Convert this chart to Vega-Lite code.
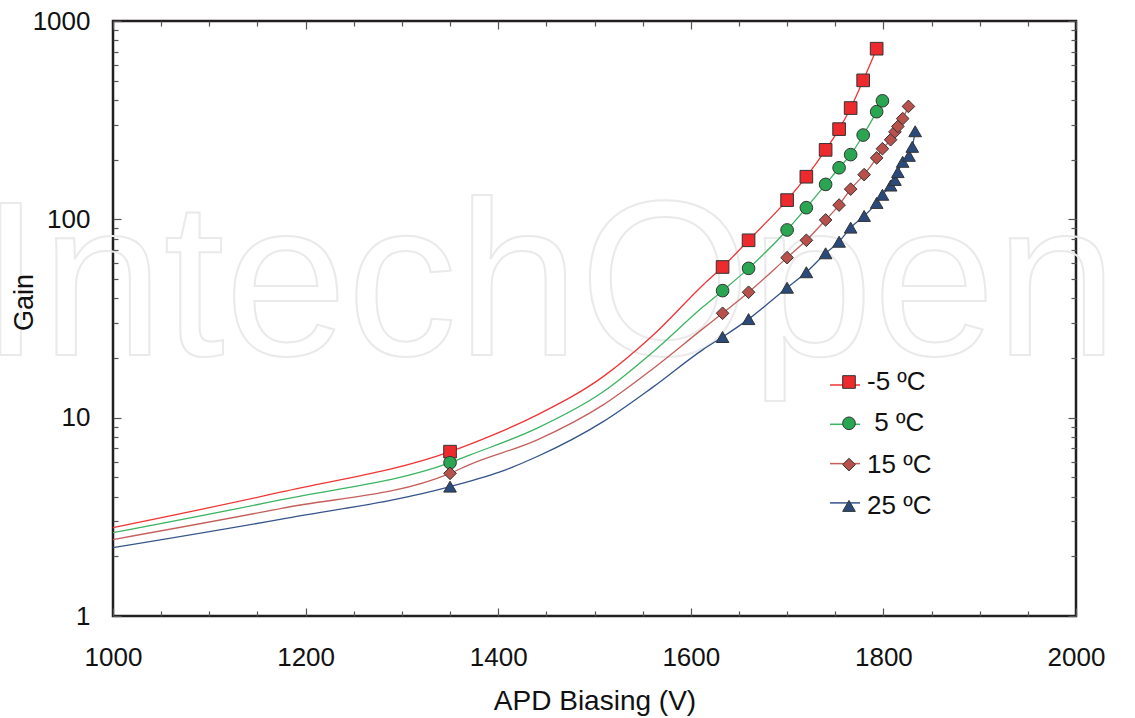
{
  "$schema": "https://vega.github.io/schema/vega-lite/v6.json",
  "width": 963,
  "height": 595,
  "autosize": {"type": "none"},
  "padding": {"left": 113, "top": 21, "right": 59, "bottom": 102},
  "background": "white",
  "config": {
    "view": {"stroke": "#231f20", "strokeWidth": 2.5},
    "font": "Liberation Sans",
    "axis": {
      "domain": false, "grid": false,
      "labelFont": "Liberation Sans", "labelFontSize": 26, "labelColor": "#111",
      "titleFont": "Liberation Sans", "titleFontSize": 28, "titleFontWeight": "normal", "titleColor": "#111",
      "tickColor": "#555", "tickWidth": 1.2, "labelFlush": false, "labelOverlap": false
    },
    "legend": {"labelFont": "Liberation Sans", "labelFontSize": 26, "labelColor": "#111", "padding": 0, "title": null}
  },
  "datasets": {
    "gain": [
      {"series": "-5 ºC", "kind": "c", "bias": 1000, "gain": 2.79},
      {"series": "-5 ºC", "kind": "c", "bias": 1175, "gain": 4.22},
      {"series": "-5 ºC", "kind": "m", "bias": 1350, "gain": 6.74},
      {"series": "-5 ºC", "kind": "c", "bias": 1371, "gain": 7.36},
      {"series": "-5 ºC", "kind": "c", "bias": 1440, "gain": 10.3},
      {"series": "-5 ºC", "kind": "c", "bias": 1509, "gain": 16.1},
      {"series": "-5 ºC", "kind": "c", "bias": 1561, "gain": 26.1},
      {"series": "-5 ºC", "kind": "c", "bias": 1613, "gain": 46.8},
      {"series": "-5 ºC", "kind": "m", "bias": 1633, "gain": 57.5},
      {"series": "-5 ºC", "kind": "m", "bias": 1660, "gain": 78.4},
      {"series": "-5 ºC", "kind": "m", "bias": 1700, "gain": 125},
      {"series": "-5 ºC", "kind": "m", "bias": 1720, "gain": 164},
      {"series": "-5 ºC", "kind": "m", "bias": 1740, "gain": 224},
      {"series": "-5 ºC", "kind": "m", "bias": 1754, "gain": 285},
      {"series": "-5 ºC", "kind": "m", "bias": 1766, "gain": 364},
      {"series": "-5 ºC", "kind": "m", "bias": 1779, "gain": 502},
      {"series": "-5 ºC", "kind": "m", "bias": 1793, "gain": 725},

      {"series": "5 ºC", "kind": "c", "bias": 1000, "gain": 2.63},
      {"series": "5 ºC", "kind": "c", "bias": 1175, "gain": 3.86},
      {"series": "5 ºC", "kind": "m", "bias": 1350, "gain": 5.93},
      {"series": "5 ºC", "kind": "c", "bias": 1371, "gain": 6.49},
      {"series": "5 ºC", "kind": "c", "bias": 1440, "gain": 8.83},
      {"series": "5 ºC", "kind": "c", "bias": 1509, "gain": 13.5},
      {"series": "5 ºC", "kind": "c", "bias": 1561, "gain": 21.5},
      {"series": "5 ºC", "kind": "c", "bias": 1613, "gain": 36.3},
      {"series": "5 ºC", "kind": "m", "bias": 1633, "gain": 43.7},
      {"series": "5 ºC", "kind": "m", "bias": 1660, "gain": 56.6},
      {"series": "5 ºC", "kind": "m", "bias": 1700, "gain": 88.4},
      {"series": "5 ºC", "kind": "m", "bias": 1720, "gain": 114.5},
      {"series": "5 ºC", "kind": "m", "bias": 1740, "gain": 150},
      {"series": "5 ºC", "kind": "m", "bias": 1754, "gain": 182},
      {"series": "5 ºC", "kind": "m", "bias": 1766, "gain": 212},
      {"series": "5 ºC", "kind": "m", "bias": 1779, "gain": 266},
      {"series": "5 ºC", "kind": "m", "bias": 1793, "gain": 349},
      {"series": "5 ºC", "kind": "m", "bias": 1799, "gain": 396},

      {"series": "15 ºC", "kind": "c", "bias": 1000, "gain": 2.43},
      {"series": "15 ºC", "kind": "c", "bias": 1175, "gain": 3.49},
      {"series": "15 ºC", "kind": "m", "bias": 1350, "gain": 5.24},
      {"series": "15 ºC", "kind": "c", "bias": 1371, "gain": 5.82},
      {"series": "15 ºC", "kind": "c", "bias": 1440, "gain": 7.71},
      {"series": "15 ºC", "kind": "c", "bias": 1509, "gain": 11.6},
      {"series": "15 ºC", "kind": "c", "bias": 1561, "gain": 17.7},
      {"series": "15 ºC", "kind": "c", "bias": 1613, "gain": 28.2},
      {"series": "15 ºC", "kind": "m", "bias": 1633, "gain": 33.6},
      {"series": "15 ºC", "kind": "m", "bias": 1660, "gain": 42.9},
      {"series": "15 ºC", "kind": "m", "bias": 1700, "gain": 64.1},
      {"series": "15 ºC", "kind": "m", "bias": 1720, "gain": 78.4},
      {"series": "15 ºC", "kind": "m", "bias": 1740, "gain": 99.3},
      {"series": "15 ºC", "kind": "m", "bias": 1754, "gain": 118},
      {"series": "15 ºC", "kind": "m", "bias": 1766, "gain": 142},
      {"series": "15 ºC", "kind": "m", "bias": 1780, "gain": 168},
      {"series": "15 ºC", "kind": "m", "bias": 1793, "gain": 204},
      {"series": "15 ºC", "kind": "m", "bias": 1799, "gain": 227},
      {"series": "15 ºC", "kind": "m", "bias": 1807.5, "gain": 252},
      {"series": "15 ºC", "kind": "m", "bias": 1812, "gain": 276},
      {"series": "15 ºC", "kind": "m", "bias": 1815, "gain": 294},
      {"series": "15 ºC", "kind": "m", "bias": 1820, "gain": 322},
      {"series": "15 ºC", "kind": "m", "bias": 1826, "gain": 371},

      {"series": "25 ºC", "kind": "c", "bias": 1000, "gain": 2.21},
      {"series": "25 ºC", "kind": "c", "bias": 1175, "gain": 3.08},
      {"series": "25 ºC", "kind": "m", "bias": 1350, "gain": 4.49},
      {"series": "25 ºC", "kind": "c", "bias": 1407, "gain": 5.44},
      {"series": "25 ºC", "kind": "c", "bias": 1440, "gain": 6.35},
      {"series": "25 ºC", "kind": "c", "bias": 1509, "gain": 9.55},
      {"series": "25 ºC", "kind": "c", "bias": 1561, "gain": 14.3},
      {"series": "25 ºC", "kind": "c", "bias": 1613, "gain": 22.1},
      {"series": "25 ºC", "kind": "m", "bias": 1633, "gain": 25.5},
      {"series": "25 ºC", "kind": "m", "bias": 1660, "gain": 31.4},
      {"series": "25 ºC", "kind": "m", "bias": 1700, "gain": 45.2},
      {"series": "25 ºC", "kind": "m", "bias": 1720, "gain": 54.1},
      {"series": "25 ºC", "kind": "m", "bias": 1740, "gain": 67.4},
      {"series": "25 ºC", "kind": "m", "bias": 1754, "gain": 77.1},
      {"series": "25 ºC", "kind": "m", "bias": 1766, "gain": 90.8},
      {"series": "25 ºC", "kind": "m", "bias": 1780, "gain": 104},
      {"series": "25 ºC", "kind": "m", "bias": 1793, "gain": 121},
      {"series": "25 ºC", "kind": "m", "bias": 1799, "gain": 133},
      {"series": "25 ºC", "kind": "m", "bias": 1807.5, "gain": 148},
      {"series": "25 ºC", "kind": "m", "bias": 1812, "gain": 158},
      {"series": "25 ºC", "kind": "m", "bias": 1815, "gain": 173},
      {"series": "25 ºC", "kind": "m", "bias": 1820, "gain": 195},
      {"series": "25 ºC", "kind": "m", "bias": 1826.6, "gain": 209},
      {"series": "25 ºC", "kind": "m", "bias": 1830, "gain": 232},
      {"series": "25 ºC", "kind": "m", "bias": 1833, "gain": 278}
    ],
    "mark": [
      {"note": "IntechOpen", "bias": 862, "gain": 20.7}
    ]
  },
  "layer": [
    {
      "data": {"name": "mark"},
      "mark": {"type": "text", "fontSize": 220, "font": "Liberation Sans", "align": "left", "baseline": "alphabetic", "fill": "transparent", "stroke": "#eaeaea", "strokeWidth": 2},
      "encoding": {
        "x": {"field": "bias", "type": "quantitative", "axis": null},
        "y": {"field": "gain", "type": "quantitative", "axis": null},
        "text": {"field": "note"}
      }
    },
    {
      "data": {"name": "gain"},
      "mark": {"type": "line", "interpolate": "monotone", "strokeWidth": 1.3},
      "encoding": {
        "x": {
          "field": "bias", "type": "quantitative",
          "scale": {"domain": [1000, 2000], "nice": false, "zero": false},
          "axis": {
            "orient": "bottom",
            "values": [1000,1050,1100,1150,1200,1250,1300,1350,1400,1450,1500,1550,1600,1650,1700,1750,1800,1850,1900,1950,2000],
            "format": "d",
            "labelExpr": "datum.value % 200 == 0 ? datum.label : ''",
            "tickSize": {"condition": {"test": "datum.value % 200 == 0", "value": -8}, "value": -5},
            "labelPadding": 36,
            "title": "APD Biasing (V)", "titleY": 93, "titleBaseline": "alphabetic"
          }
        },
        "y": {
          "field": "gain", "type": "quantitative",
          "scale": {"type": "log", "domain": [1, 1000], "nice": false},
          "axis": {
            "orient": "left", "zindex": 1,
            "values": [1,2,3,4,5,6,7,8,9,10,20,30,40,50,60,70,80,90,100,200,300,400,500,600,700,800,900,1000],
            "format": "d",
            "labelExpr": "indexof([1,10,100,1000], datum.value) >= 0 ? datum.label : ''",
            "tickSize": {"condition": {"test": "indexof([1,10,100,1000], datum.value) >= 0", "value": -8}, "value": -5},
            "labelPadding": 31,
            "title": "Gain", "titleX": -81, "titleY": 281, "titleAngle": -90, "titleAlign": "center", "titleBaseline": "alphabetic", "titleFontSize": 27
          }
        },
        "stroke": {
          "field": "series", "type": "nominal",
          "scale": {"domain": ["-5 ºC", "5 ºC", "15 ºC", "25 ºC", "-"], "range": ["#ef3535", "#3cb462", "#c4605c", "#34548a", "#000000"]},
          "legend": {"orient": "none", "legendX": 716, "legendY": 348, "values": ["-5 ºC", "5 ºC", "15 ºC", "25 ºC"], "symbolType": "stroke", "symbolSize": 900, "symbolStrokeWidth": 1.5, "labelOpacity": 0, "rowPadding": 10.3}
        },
        "detail": {"field": "series"}
      }
    },
    {
      "data": {"name": "gain"},
      "transform": [{"filter": "datum.kind == 'm'"}],
      "mark": {"type": "point", "filled": true, "size": 160, "stroke": "#333333", "strokeWidth": 1, "opacity": 1},
      "encoding": {
        "x": {
          "field": "bias", "type": "quantitative",
          "axis": {
            "orient": "top",
            "values": [1000,1050,1100,1150,1200,1250,1300,1350,1400,1450,1500,1550,1600,1650,1700,1750,1800,1850,1900,1950,2000],
            "labels": false, "title": null,
            "tickSize": {"condition": {"test": "datum.value % 200 == 0", "value": -8}, "value": -5}
          }
        },
        "y": {
          "field": "gain", "type": "quantitative",
          "axis": {
            "orient": "right",
            "values": [1,2,3,4,5,6,7,8,9,10,20,30,40,50,60,70,80,90,100,200,300,400,500,600,700,800,900,1000],
            "labels": false, "title": null,
            "tickSize": {"condition": {"test": "indexof([1,10,100,1000], datum.value) >= 0", "value": -8}, "value": -5}
          }
        },
        "fill": {
          "field": "series", "type": "nominal",
          "scale": {"domain": ["-5 ºC", "5 ºC", "15 ºC", "25 ºC"], "range": ["#ed2a2e", "#2aa653", "#b8504c", "#2b4a7c"]},
          "legend": {"orient": "none", "legendX": 723, "legendY": 348, "symbolSize": 160, "symbolStrokeColor": "#333333", "symbolStrokeWidth": 1, "symbolOpacity": 1, "rowPadding": 15.3, "labelOffset": 5, "labelExpr": "datum.label == '5 ºC' ? '\u200b\u00a05 ºC' : datum.label"}
        },
        "shape": {
          "field": "series", "type": "nominal",
          "scale": {"domain": ["-5 ºC", "5 ºC", "15 ºC", "25 ºC"], "range": ["square", "circle", "diamond", "triangle-up"]}
        }
      }
    }
  ],
  "resolve": {"axis": {"x": "independent", "y": "independent"}}
}
